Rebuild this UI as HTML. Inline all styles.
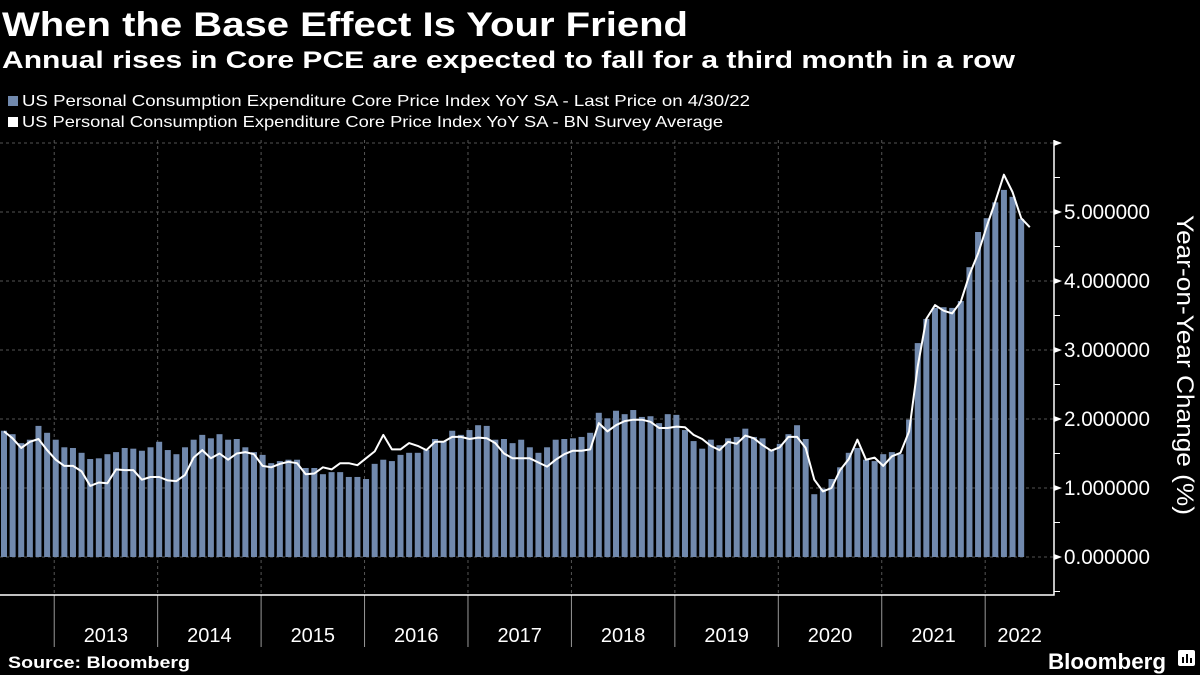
<!DOCTYPE html>
<html><head><meta charset="utf-8"><style>
html,body{margin:0;padding:0;background:#000;}
svg{display:block;font-family:"Liberation Sans",sans-serif;}
</style></head><body>
<svg id="chart" width="1200" height="675" viewBox="0 0 1200 675" xmlns="http://www.w3.org/2000/svg">
<rect width="1200" height="675" fill="#000"/>
<text x="2" y="36" fill="#fff" font-weight="bold" font-size="34" textLength="686" lengthAdjust="spacingAndGlyphs">When the Base Effect Is Your Friend</text>
<text x="2" y="68" fill="#fff" font-weight="bold" font-size="24" textLength="1013" lengthAdjust="spacingAndGlyphs">Annual rises in Core PCE are expected to fall for a third month in a row</text>
<g>
<rect x="8" y="96" width="10" height="10" fill="#7189ad"/>
<text x="22" y="106" fill="#fff" font-size="16" textLength="728" lengthAdjust="spacingAndGlyphs">US Personal Consumption Expenditure Core Price Index YoY SA - Last Price on 4/30/22</text>
<rect x="8" y="117" width="10" height="10" fill="#fff"/>
<text x="22" y="127" fill="#fff" font-size="16" textLength="701" lengthAdjust="spacingAndGlyphs">US Personal Consumption Expenditure Core Price Index YoY SA - BN Survey Average</text>
</g>
<g id="grid"></g>
<g id="bars"></g>
<g id="line"></g>
<g id="axes"></g>
<text transform="translate(1177,365) rotate(90)" text-anchor="middle" fill="#fff" font-size="24" textLength="300" lengthAdjust="spacingAndGlyphs">Year-on-Year Change (%)</text>
<text x="8" y="668" fill="#fff" font-weight="bold" font-size="17" textLength="182" lengthAdjust="spacingAndGlyphs">Source: Bloomberg</text>
<text x="1048" y="669" fill="#fff" font-weight="bold" font-size="22" textLength="118" lengthAdjust="spacingAndGlyphs">Bloomberg</text>
<g><rect x="1178" y="650" width="17" height="16" rx="2" fill="#fff"/><rect x="1182" y="657" width="2" height="6" fill="#000"/><rect x="1186" y="654" width="2" height="9" fill="#000"/><rect x="1190" y="658" width="2" height="5" fill="#000"/></g>
</svg>
<script>
const barValues=[1.83,1.78,1.65,1.70,1.90,1.80,1.70,1.59,1.58,1.51,1.42,1.43,1.49,1.52,1.58,1.57,1.54,1.59,1.67,1.55,1.49,1.59,1.70,1.77,1.72,1.78,1.70,1.71,1.59,1.52,1.48,1.36,1.39,1.41,1.41,1.29,1.29,1.20,1.23,1.23,1.16,1.16,
1.13,1.35,1.41,1.39,1.48,1.51,1.51,1.55,1.71,1.68,1.83,1.77,1.84,1.91,1.90,1.70,1.71,1.65,1.70,1.59,1.51,1.59,1.70,1.71,1.72,1.74,1.80,2.09,2.01,2.12,2.07,2.13,2.03,2.04,1.94,2.07,2.06,1.84,1.68,1.57,
1.70,1.62,1.72,1.74,1.86,1.74,1.72,1.55,1.64,1.78,1.91,1.71,0.91,0.99,1.13,1.30,1.51,1.58,1.41,1.39,1.49,1.52,1.49,1.99,3.10,3.45,3.61,3.62,3.61,3.71,4.20,4.71,4.91,5.14,5.32,5.22,4.90];
const surveyValues=[1.82,1.72,1.58,1.67,1.71,1.55,1.41,1.32,1.32,1.24,1.03,1.08,1.07,1.27,1.26,1.26,1.12,1.16,1.16,1.11,1.10,1.19,1.44,1.55,1.43,1.50,1.41,1.50,1.52,1.49,1.32,1.30,1.35,1.38,1.36,1.20,1.21,1.30,1.27,1.36,1.36,1.33,
1.43,1.53,1.77,1.56,1.56,1.65,1.61,1.55,1.67,1.67,1.74,1.74,1.71,1.73,1.72,1.65,1.50,1.43,1.43,1.43,1.37,1.31,1.41,1.49,1.54,1.54,1.56,1.94,1.82,1.91,1.97,1.99,1.99,1.96,1.87,1.87,1.89,1.88,1.77,1.71,
1.61,1.55,1.67,1.64,1.76,1.72,1.62,1.54,1.59,1.74,1.74,1.58,1.12,0.95,1.00,1.26,1.42,1.70,1.41,1.44,1.32,1.46,1.51,1.82,2.76,3.45,3.65,3.57,3.53,3.70,4.09,4.40,4.79,5.15,5.54,5.29,4.91,4.78];
const yearLabels=["2013","2014","2015","2016","2017","2018","2019","2020","2021","2022"];
const yTickLabels=["0.000000","1.000000","2.000000","3.000000","4.000000","5.000000"];
const NS="http://www.w3.org/2000/svg";
const y0=557,pxPerUnit=69,x0=4,pxPerMonth=8.62,startMonth=6; // Jul 2012
const yScale=v=>y0-v*pxPerUnit;
const xScale=i=>x0+i*pxPerMonth;
const yearX=k=>xScale(startMonth+12*k)-1.5;
function mk(tag,attrs,parent){const e=document.createElementNS(NS,tag);for(const k in attrs)e.setAttribute(k,attrs[k]);parent.appendChild(e);return e;}
const grid=document.getElementById('grid'),bars=document.getElementById('bars'),lineG=document.getElementById('line'),axes=document.getElementById('axes');
for(let v=0;v<=6;v++){const g=mk('line',{x1:0,x2:1054,y1:yScale(v),y2:yScale(v),stroke:'#555','stroke-width':1,'stroke-dasharray':'3,3'},grid);

}
yearLabels.forEach((l,k)=>{const x=yearX(k);const g=mk('line',{x1:x,x2:x,y1:140,y2:595,stroke:'#555','stroke-width':1,'stroke-dasharray':'3,3'},grid);


const t=mk('line',{x1:x,x2:x,y1:595,y2:647,stroke:'#999','stroke-width':1},axes);


const nx=k<yearLabels.length-1?yearX(k+1):1054;
const tx=mk('text',{x:(x+nx)/2,y:642,'text-anchor':'middle',fill:'#fff','font-size':20},axes);tx.textContent=l;

});
barValues.forEach((v,i)=>{const r=mk('rect',{x:xScale(i)-3,y:yScale(v),width:6,height:v*pxPerUnit,fill:'#7189ad'},bars);

});
const pts=surveyValues.map((v,i)=>xScale(i).toFixed(1)+','+yScale(v).toFixed(1)).join(' ');
const pl=mk('polyline',{points:pts,fill:'none',stroke:'#fff','stroke-width':2,'stroke-linejoin':'round'},lineG);


const ax=mk('path',{d:'M1054,140 V595 H0',fill:'none',stroke:'#fff','stroke-width':1.5},axes);


for(let v=-0.5;v<=6;v+=0.5){if(Number.isInteger(v)){const p=mk('path',{d:`M1054,${yScale(v)-3} L1062,${yScale(v)} L1054,${yScale(v)+3}Z`,fill:'#fff'},axes);

}else{const p=mk('line',{x1:1054,x2:1060,y1:yScale(v),y2:yScale(v),stroke:'#fff','stroke-width':1},axes);

}}
yTickLabels.forEach((l,v)=>{const t=mk('text',{x:1064,y:yScale(v)+7,fill:'#fff','font-size':21,textLength:86,lengthAdjust:'spacingAndGlyphs'},axes);t.textContent=l;

});
</script>
</body></html>
